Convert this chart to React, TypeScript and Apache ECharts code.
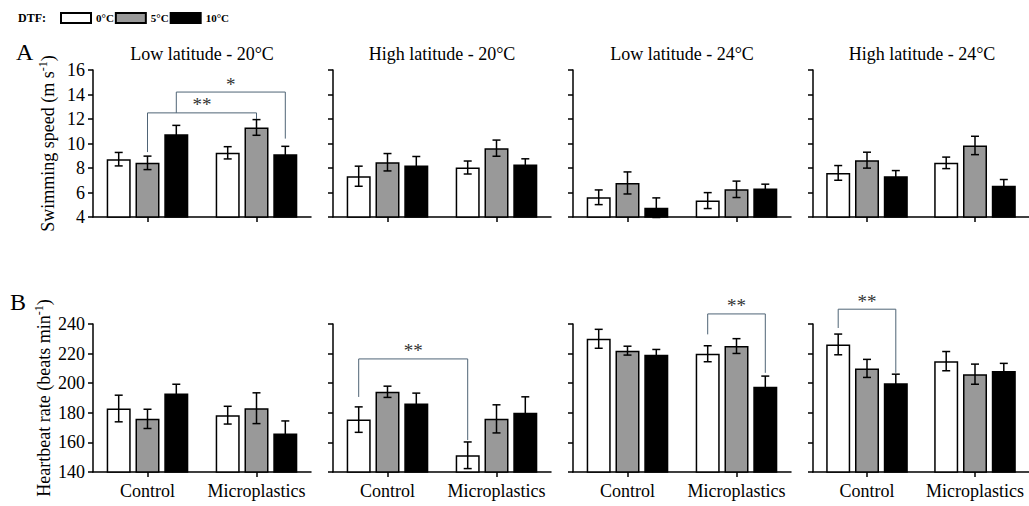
import React, { useEffect, useRef } from 'react';
import * as echarts from 'echarts';

const categories = ['Control', 'Microplastics'];
const temperatures = ['0°C', '5°C', '10°C'];
const panelTitles = ['Low latitude - 20°C', 'High latitude - 20°C', 'Low latitude - 24°C', 'High latitude - 24°C'];

// Swimming speed (m s-1): [panel][temperature][category]
const speedMean = [
  [[8.72, 9.24], [8.42, 11.31], [10.76, 9.13]],
  [[7.33, 8.04], [8.47, 9.62], [8.2, 8.28]],
  [[5.61, 5.34], [6.78, 6.26], [4.76, 6.32]],
  [[7.6, 8.42], [8.64, 9.84], [7.33, 6.56]],
];
const speedErr = [
  [[0.55, 0.5], [0.55, 0.64], [0.72, 0.64]],
  [[0.82, 0.53], [0.71, 0.66], [0.74, 0.47]],
  [[0.6, 0.65], [0.9, 0.67], [0.8, 0.36]],
  [[0.6, 0.47], [0.65, 0.75], [0.46, 0.5]],
];
// Heartbeat rate (beats min-1): [panel][temperature][category]
const heartMean = [
  [[182.9, 178.4], [175.9, 183.1], [193, 166]],
  [[175.4, 151.3], [194.2, 175.9], [186.3, 180]],
  [[230, 219.9], [222, 225.1], [219.2, 197.6]],
  [[226.2, 214.9], [210, 206.1], [200, 208.2]],
];
const heartErr = [
  [[9, 6], [6.5, 10.4], [6.3, 8.5]],
  [[8.6, 9], [3.8, 9.5], [7, 10.8]],
  [[6.4, 5.4], [3, 5], [3.6, 7.2]],
  [[7, 6.5], [6.1, 6.8], [6.1, 5.2]],
];

// Significance brackets: panel, [cat, bar, start value] for both ends, top value, label
const speedBrackets = [
  { panel: 0, from: [0, 1, 9.3], to: [1, 1, 12.0], top: 12.5, label: '**' },
  { panel: 0, from: [0, 2, 12.5], to: [1, 2, 10.4], top: 14.2, label: '*' },
];
const heartBrackets = [
  { panel: 1, from: [0, 0, 190.7], to: [1, 0, 161.6], top: 216.4, label: '**' },
  { panel: 2, from: [1, 0, 233], to: [1, 2, 207], top: 246.8, label: '**' },
  { panel: 3, from: [0, 0, 237.3], to: [0, 2, 207], top: 250, label: '**' },
];

const speedAxis = { min: 4, max: 16, interval: 2 };
const heartAxis = { min: 140, max: 240, interval: 20 };

const FONT = 'Liberation Serif';
const BAR_W = 24;
const BAR_STEP = BAR_W * 1.2;
const barColors = ['#ffffff', '#999999', '#000000'];
const gridLefts = [93, 333, 573, 813];
const GRID_W = 218;
const rows = [
  { top: 70, height: 147 },
  { top: 324, height: 148 },
];

function buildOption() {
  const grid: any[] = [];
  const xAxis: any[] = [];
  const yAxis: any[] = [];
  const series: any[] = [];

  const rowData = [
    { mean: speedMean, err: speedErr, axis: speedAxis, brackets: speedBrackets, name: '{a|Swimming speed (m s}{s|-1}{a|)}', gap: 34 },
    { mean: heartMean, err: heartErr, axis: heartAxis, brackets: heartBrackets, name: '{a|Heartbeat rate (beats min}{s|-1}{a|)}', gap: 38 },
  ];

  rowData.forEach((rd, r) => {
    for (let p = 0; p < 4; p++) {
      const g = r * 4 + p;
      grid.push({ left: gridLefts[p], width: GRID_W, top: rows[r].top, height: rows[r].height });
      xAxis.push({
        type: 'category',
        gridIndex: g,
        data: categories,
        axisLine: { show: true, lineStyle: { color: '#000', width: 1.5 } },
        axisTick: { show: true, alignWithLabel: true, length: 5, lineStyle: { color: '#000', width: 1.5 } },
        axisLabel: { show: r === 1, interval: 0, margin: 10, color: '#000', fontSize: 18, fontFamily: FONT },
        splitLine: { show: false },
      });
      yAxis.push({
        type: 'value',
        gridIndex: g,
        min: rd.axis.min,
        max: rd.axis.max,
        interval: rd.axis.interval,
        name: p === 0 ? rd.name : '',
        nameLocation: 'middle',
        nameGap: rd.gap,
        nameTextStyle: {
          rich: {
            a: { fontSize: 18, fontFamily: FONT, color: '#000', lineHeight: 22 },
            s: { fontSize: 12, fontFamily: FONT, color: '#000', verticalAlign: 'top', lineHeight: 22 },
          },
        },
        axisLine: { show: true, lineStyle: { color: '#000', width: 1.5 } },
        axisTick: { show: true, length: 5, lineStyle: { color: '#000', width: 1.5 } },
        axisLabel: { show: p === 0, margin: 8, color: '#000', fontSize: 18, fontFamily: FONT },
        splitLine: { show: false },
      });
      for (let t = 0; t < 3; t++) {
        series.push({
          type: 'bar',
          name: temperatures[t],
          xAxisIndex: g,
          yAxisIndex: g,
          data: rd.mean[p][t],
          barWidth: BAR_W,
          barGap: '20%',
          itemStyle: { color: barColors[t], borderColor: '#000', borderWidth: 1.5 },
          z: 2,
        });
      }
      const errData: number[][] = [];
      for (let t = 0; t < 3; t++) {
        for (let c = 0; c < 2; c++) {
          errData.push([c, t, rd.mean[p][t][c], rd.err[p][t][c]]);
        }
      }
      series.push({
        type: 'custom',
        xAxisIndex: g,
        yAxisIndex: g,
        z: 3,
        silent: true,
        encode: { x: 0, y: 2 },
        data: errData,
        renderItem: (params: any, api: any) => {
          const cat = api.value(0);
          const bar = api.value(1);
          const m = api.value(2);
          const e = api.value(3);
          const top = api.coord([cat, m + e]);
          const bot = api.coord([cat, m - e]);
          const x = top[0] + (bar - 1) * BAR_STEP;
          const st = { stroke: '#000', lineWidth: 1.5 };
          return {
            type: 'group',
            children: [
              { type: 'line', shape: { x1: x, y1: top[1], x2: x, y2: bot[1] }, style: st },
              { type: 'line', shape: { x1: x - 4, y1: top[1], x2: x + 4, y2: top[1] }, style: st },
              { type: 'line', shape: { x1: x - 4, y1: bot[1], x2: x + 4, y2: bot[1] }, style: st },
            ],
          };
        },
      });
      const bks = rd.brackets.filter((b) => b.panel === p);
      if (bks.length) {
        series.push({
          type: 'custom',
          xAxisIndex: g,
          yAxisIndex: g,
          z: 4,
          silent: true,
          clip: false,
          encode: { x: 0, y: 1 },
          data: bks.map((b) => [b.from[0], b.top]),
          renderItem: (params: any, api: any) => {
            const b = bks[params.dataIndex];
            const a1 = api.coord([b.from[0], b.from[2]]);
            const a2 = api.coord([b.from[0], b.top]);
            const c1 = api.coord([b.to[0], b.to[2]]);
            const x1 = a1[0] + (b.from[1] - 1) * BAR_STEP;
            const x2 = c1[0] + (b.to[1] - 1) * BAR_STEP;
            const yt = a2[1];
            return {
              type: 'group',
              children: [
                {
                  type: 'polyline',
                  shape: { points: [[x1, a1[1]], [x1, yt], [x2, yt], [x2, c1[1]]] },
                  style: { stroke: '#4f6476', lineWidth: 1, fill: 'none' },
                },
                {
                  type: 'text',
                  x: (x1 + x2) / 2,
                  y: yt - 8,
                  style: { text: b.label, fill: '#333', fontSize: 19, fontFamily: FONT, align: 'center', verticalAlign: 'middle' },
                },
              ],
            };
          },
        });
      }
    }
  });

  const graphic: any[] = [
    { type: 'text', x: 18, y: 18, style: { text: 'DTF:', fontSize: 12, fontWeight: 'bold', fontFamily: FONT, fill: '#000', verticalAlign: 'middle' } },
    { type: 'text', x: 16, y: 52, style: { text: 'A', fontSize: 24, fontFamily: FONT, fill: '#000', verticalAlign: 'middle' } },
    { type: 'text', x: 10, y: 302, style: { text: 'B', fontSize: 24, fontFamily: FONT, fill: '#000', verticalAlign: 'middle' } },
  ];
  panelTitles.forEach((t, p) => {
    graphic.push({
      type: 'text',
      x: gridLefts[p] + GRID_W / 2,
      y: 54,
      style: { text: t, fontSize: 18, fontFamily: FONT, fill: '#000', align: 'center', verticalAlign: 'middle' },
    });
  });

  return {
    animation: false,
    backgroundColor: '#fff',
    legend: {
      data: temperatures,
      left: 60,
      top: 12,
      padding: 0,
      itemWidth: 30,
      itemHeight: 10,
      itemGap: 1,
      icon: 'rect',
      selectedMode: false,
      textStyle: { fontSize: 11, fontWeight: 'bold', fontFamily: FONT, color: '#000' },
    },
    grid,
    xAxis,
    yAxis,
    series,
    graphic,
  };
}

export default function App() {
  const ref = useRef<HTMLDivElement>(null);
  useEffect(() => {
    if (!ref.current) return;
    const chart = echarts.init(ref.current, null, { renderer: 'svg' });
    chart.setOption(buildOption() as any);
    return () => chart.dispose();
  }, []);
  return <div ref={ref} style={{ position: 'absolute', left: 0, top: 0, width: 1029, height: 506 }} />;
}
